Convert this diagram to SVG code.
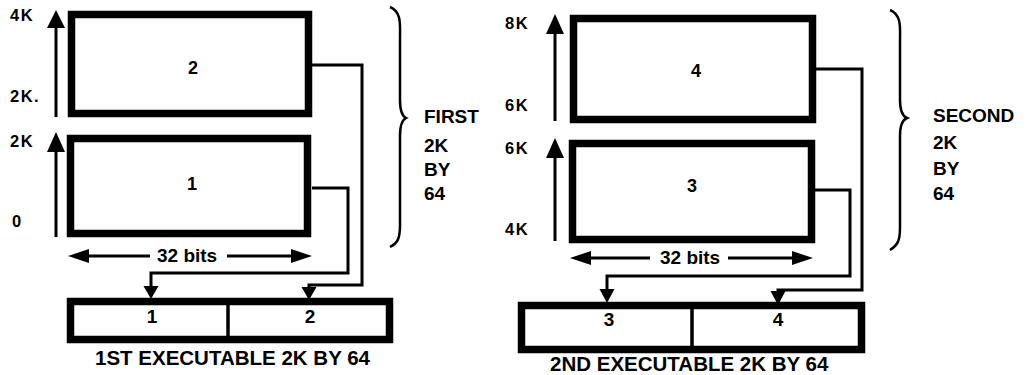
<svg xmlns="http://www.w3.org/2000/svg" width="1031" height="375" viewBox="0 0 1031 375">
<style>
text{font-family:"Liberation Sans",Arial,sans-serif;font-weight:bold;fill:#000}
.lbl{font-size:16.5px;letter-spacing:1.5px}
.side{font-size:19px}
.num{font-size:18px;text-anchor:middle}
.bnum{font-size:19px;text-anchor:middle}
.bits{font-size:19px}
.title{font-size:20.5px}
.box{fill:#fff;stroke:#000;stroke-width:7.5}
.div{stroke:#000;stroke-width:3.5}
.ln{fill:none;stroke:#000;stroke-width:3}
.brace{fill:none;stroke:#000;stroke-width:2.5}
.head{fill:#000}
</style>
<rect width="1031" height="375" fill="#fff"/>

<g id="left-panel">
  <g id="axis-left">
    <text class="lbl" x="10" y="21">4K</text>
    <text class="lbl" x="10" y="102">2K.</text>
    <text class="lbl" x="10" y="147">2K</text>
    <text class="lbl" x="12" y="227">0</text>
    <line class="ln" x1="56" y1="117" x2="56" y2="26" stroke-width="3.5"/>
    <polygon class="head" points="56,10 47,28 65,28"/>
    <line class="ln" x1="56" y1="237" x2="56" y2="150" stroke-width="3.5"/>
    <polygon class="head" points="56,132 47,152 65,152"/>
  </g>
  <g id="block2">
    <rect class="box" x="71.5" y="14.5" width="237" height="99"/>
    <text class="num" x="193" y="74">2</text>
  </g>
  <g id="block1">
    <rect class="box" x="70.5" y="138.5" width="237" height="95"/>
    <text class="num" x="192" y="190">1</text>
  </g>
  <g id="width-left">
    <line class="ln" x1="86" y1="256" x2="150" y2="256"/>
    <polygon class="head" points="68,256 89,249 89,263"/>
    <text class="bits" x="157" y="262">32 bits</text>
    <line class="ln" x1="227" y1="256" x2="294" y2="256"/>
    <polygon class="head" points="312,256 291,249 291,263"/>
  </g>
  <g id="brace-left">
    <path class="brace" d="M390,7 C402,12 400,25 400,40 L400,100 C400,110 402,116 406,118 C402,120 400,126 400,136 L400,225 C400,238 398,243 390,247"/>
    <text class="side" x="424" y="123">FIRST</text>
    <text class="side" x="424" y="152">2K</text>
    <text class="side" x="424" y="176">BY</text>
    <text class="side" x="424" y="200">64</text>
  </g>
  <g id="exec1">
    <rect class="box" x="70.5" y="301.5" width="319" height="38"/>
    <line class="div" x1="228" y1="300" x2="228" y2="340"/>
    <text class="bnum" x="152" y="323">1</text>
    <text class="bnum" x="310" y="323">2</text>
    <text class="title" x="95" y="365">1ST EXECUTABLE 2K BY 64</text>
  </g>
</g>

<g id="right-panel">
  <g id="axis-right">
    <text class="lbl" x="505" y="29">8K</text>
    <text class="lbl" x="505" y="111">6K</text>
    <text class="lbl" x="505" y="154">6K</text>
    <text class="lbl" x="505" y="235">4K</text>
    <line class="ln" x1="555" y1="121" x2="555" y2="30" stroke-width="3.5"/>
    <polygon class="head" points="555,14 546,34 564,34"/>
    <line class="ln" x1="555" y1="241" x2="555" y2="155" stroke-width="3.5"/>
    <polygon class="head" points="555,138 546,158 564,158"/>
  </g>
  <g id="block4">
    <rect class="box" x="573.5" y="18.5" width="239" height="101"/>
    <text class="num" x="696" y="77">4</text>
  </g>
  <g id="block3">
    <rect class="box" x="572.5" y="143.5" width="239" height="96"/>
    <text class="num" x="692" y="192">3</text>
  </g>
  <g id="width-right">
    <line class="ln" x1="588" y1="258" x2="650" y2="258"/>
    <polygon class="head" points="570,258 591,251 591,265"/>
    <text class="bits" x="660" y="264">32 bits</text>
    <line class="ln" x1="728" y1="258" x2="795" y2="258"/>
    <polygon class="head" points="813,258 792,251 792,265"/>
  </g>
  <g id="brace-right">
    <path class="brace" d="M890,10 C902,15 900,28 900,42 L900,100 C900,110 902,116 907,118 C902,120 900,126 900,136 L900,228 C900,240 898,245 890,250"/>
    <text class="side" x="933" y="122">SECOND</text>
    <text class="side" x="933" y="149">2K</text>
    <text class="side" x="933" y="175">BY</text>
    <text class="side" x="933" y="200">64</text>
  </g>
  <g id="exec2">
    <rect class="box" x="521.5" y="305.5" width="340" height="44"/>
    <line class="div" x1="692" y1="304" x2="692" y2="351"/>
    <text class="bnum" x="609" y="326">3</text>
    <text class="bnum" x="778" y="326">4</text>
    <text class="title" x="550" y="371">2ND EXECUTABLE 2K BY 64</text>
  </g>
</g>

<g id="connectors">
  <path class="ln" d="M312,65 H362 V285 H309 V289"/>
  <polygon class="head" points="301.5,287 316.5,287 309,300"/>
  <path class="ln" d="M312,188 H348 V273 H151 V288"/>
  <polygon class="head" points="143.5,286 158.5,286 151,299"/>
  <path class="ln" d="M816,69 H862 V290 H778 V293"/>
  <polygon class="head" points="770.5,291 785.5,291 778,305"/>
  <path class="ln" d="M815,190 H850 V276 H607 V290"/>
  <polygon class="head" points="599.5,289 614.5,289 607,303"/>
</g>
</svg>
